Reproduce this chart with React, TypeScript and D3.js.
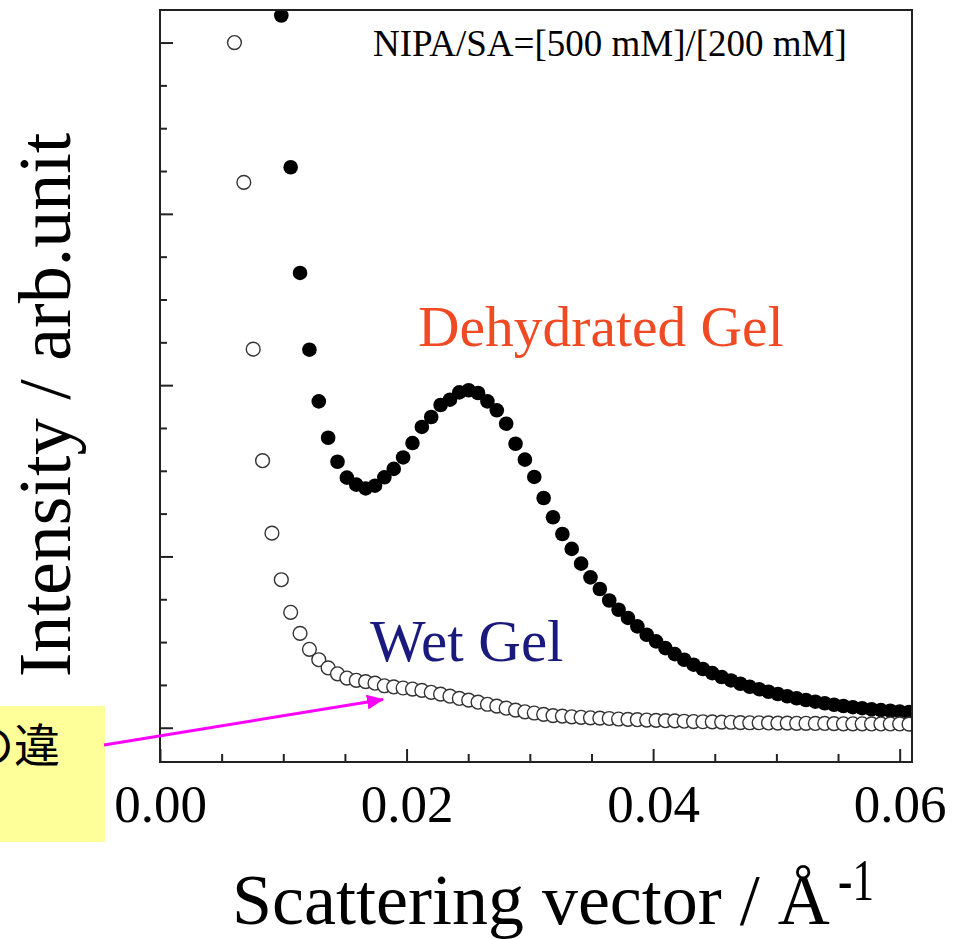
import { useEffect, useRef } from "react";
import * as d3 from "d3";

const WIDTH = 962;
const HEIGHT = 939;

// Scattering vector q (1/Å), shared by both series
const q = [
  0.00604, 0.0068, 0.00756, 0.00832, 0.00908, 0.00984, 0.0106, 0.01136, 0.01212, 0.01288,
  0.01364, 0.0144, 0.01516, 0.01592, 0.01668, 0.01744, 0.0182, 0.01896, 0.01972, 0.02048,
  0.02124, 0.022, 0.02276, 0.02352, 0.02428, 0.02504, 0.0258, 0.02656, 0.02732, 0.02808,
  0.02884, 0.0296, 0.03036, 0.03112, 0.03188, 0.03264, 0.0334, 0.03416, 0.03492, 0.03568,
  0.03644, 0.0372, 0.03796, 0.03872, 0.03948, 0.04024, 0.041, 0.04176, 0.04252, 0.04328,
  0.04404, 0.0448, 0.04556, 0.04632, 0.04708, 0.04784, 0.0486, 0.04936, 0.05012, 0.05088,
  0.05164, 0.0524, 0.05316, 0.05392, 0.05468, 0.05544, 0.0562, 0.05696, 0.05772, 0.05848,
  0.05924, 0.06, 0.06076,
];

// Wet gel intensity (arb. unit), open circles
const wetGel = [
  40.0, 31.84, 22.1, 15.59, 11.36, 8.64, 6.74, 5.51, 4.58, 3.97,
  3.49, 3.15, 2.9, 2.77, 2.69, 2.6, 2.45, 2.38, 2.32, 2.26,
  2.18, 2.07, 1.96, 1.84, 1.71, 1.61, 1.49, 1.37, 1.26, 1.14,
  1.03, 0.93, 0.86, 0.78, 0.71, 0.68, 0.64, 0.61, 0.58, 0.56,
  0.54, 0.51, 0.49, 0.47, 0.45, 0.43, 0.41, 0.4, 0.38, 0.36,
  0.35, 0.34, 0.33, 0.32, 0.3, 0.29, 0.29, 0.28, 0.27, 0.27,
  0.26, 0.26, 0.25, 0.25, 0.24, 0.23, 0.23, 0.23, 0.22, 0.22,
  0.22, 0.22, 0.21,
];

// Dehydrated gel intensity (arb. unit), filled circles; first points are off scale
const dehydratedGel = [
  null, null, null, null, null, 41.58, 32.72, 26.55, 22.07, 19.05,
  16.93, 15.53, 14.6, 14.19, 13.97, 14.13, 14.62, 15.11, 15.78, 16.62,
  17.56, 18.14, 18.84, 19.15, 19.58, 19.7, 19.54, 19.05, 18.53, 17.75,
  16.58, 15.65, 14.64, 13.41, 12.29, 11.31, 10.44, 9.58, 8.78, 8.1,
  7.43, 6.89, 6.41, 5.92, 5.43, 5.04, 4.65, 4.3, 3.97, 3.68,
  3.43, 3.19, 2.96, 2.76, 2.57, 2.39, 2.25, 2.1, 1.97, 1.84,
  1.72, 1.62, 1.52, 1.43, 1.34, 1.27, 1.2, 1.14, 1.08, 1.03,
  0.99, 0.95, 0.92,
];

const xMajorTicks = [0, 0.02, 0.04, 0.06];
const xMinorTicks = [0.005, 0.01, 0.015, 0.025, 0.03, 0.035, 0.045, 0.05, 0.055];
const yMajorTicks = [0, 10, 20, 30, 40];
const yMinorTicks = [2.5, 5, 7.5, 12.5, 15, 17.5, 22.5, 25, 27.5, 32.5, 35, 37.5];

const SERIF = "'Liberation Serif', 'Times New Roman', serif";

const plot = { left: 160, top: 10, right: 912, bottom: 762 };

function drawChart(el: SVGSVGElement) {
  const svg = d3.select(el);
  svg.selectAll("*").remove();

  const x = d3.scaleLinear().domain([0, 0.061]).range([plot.left, plot.right]);
  const y = d3.scaleLinear().domain([-2, 41.9]).range([plot.bottom, plot.top]);

  svg
    .append("clipPath")
    .attr("id", "plot-clip")
    .append("rect")
    .attr("x", plot.left)
    .attr("y", plot.top)
    .attr("width", plot.right - plot.left)
    .attr("height", plot.bottom - plot.top);

  // Annotation box on the left (its text runs off the page, as in the source)
  svg
    .append("rect")
    .attr("x", -10)
    .attr("y", 706)
    .attr("width", 115)
    .attr("height", 136)
    .attr("fill", "#ffff99");
  svg
    .append("text")
    .attr("x", 60)
    .attr("y", 762)
    .attr("text-anchor", "end")
    .attr("font-family", "'Noto Sans CJK JP', sans-serif")
    .attr("font-size", 46)
    .attr("fill", "#000")
    .text("構造の違");

  const pts = svg.append("g").attr("clip-path", "url(#plot-clip)");

  const dry = q
    .map((d, i) => ({ q: d, v: dehydratedGel[i] }))
    .filter((d) => d.v != null) as { q: number; v: number }[];
  pts
    .selectAll("circle.dry")
    .data(dry)
    .join("circle")
    .attr("class", "dry")
    .attr("cx", (d) => x(d.q))
    .attr("cy", (d) => y(d.v))
    .attr("r", 7.3)
    .attr("fill", "#000");

  const wet = q.map((d, i) => ({ q: d, v: wetGel[i] }));
  pts
    .selectAll("circle.wet")
    .data(wet)
    .join("circle")
    .attr("class", "wet")
    .attr("cx", (d) => x(d.q))
    .attr("cy", (d) => y(d.v))
    .attr("r", 6.9)
    .attr("fill", "#fff")
    .attr("stroke", "#333")
    .attr("stroke-width", 1.4);

  // Axes with inward ticks
  const styleAxis = (g: d3.Selection<SVGGElement, unknown, null, undefined>) => {
    g.select(".domain").remove();
    g.selectAll(".tick line").attr("stroke", "#222").attr("stroke-width", 2);
    g.selectAll(".tick text")
      .attr("font-family", SERIF)
      .attr("font-size", 53)
      .attr("fill", "#000");
  };

  svg
    .append("g")
    .attr("transform", `translate(0,${plot.bottom})`)
    .call(
      d3
        .axisBottom(x)
        .tickValues(xMajorTicks)
        .tickSize(-13)
        .tickPadding(22)
        .tickFormat(d3.format(".2f"))
    )
    .call(styleAxis);

  svg
    .append("g")
    .attr("transform", `translate(0,${plot.bottom})`)
    .call(d3.axisBottom(x).tickValues(xMinorTicks).tickSize(-8).tickFormat(() => ""))
    .call(styleAxis);

  svg
    .append("g")
    .attr("transform", `translate(${plot.left},0)`)
    .call(d3.axisLeft(y).tickValues(yMajorTicks).tickSize(-13).tickFormat(() => ""))
    .call(styleAxis);

  svg
    .append("g")
    .attr("transform", `translate(${plot.left},0)`)
    .call(d3.axisLeft(y).tickValues(yMinorTicks).tickSize(-7).tickFormat(() => ""))
    .call(styleAxis);

  // Frame
  svg
    .append("rect")
    .attr("x", plot.left)
    .attr("y", plot.top)
    .attr("width", plot.right - plot.left)
    .attr("height", plot.bottom - plot.top)
    .attr("fill", "none")
    .attr("stroke", "#222")
    .attr("stroke-width", 2);

  // Labels
  svg
    .append("text")
    .attr("x", 373)
    .attr("y", 56)
    .attr("font-family", SERIF)
    .attr("font-size", 37)
    .attr("fill", "#000")
    .text("NIPA/SA=[500 mM]/[200 mM]");

  svg
    .append("text")
    .attr("x", 418)
    .attr("y", 346)
    .attr("font-family", SERIF)
    .attr("font-size", 57.5)
    .attr("fill", "#f04a24")
    .text("Dehydrated Gel");

  svg
    .append("text")
    .attr("x", 370)
    .attr("y", 661)
    .attr("font-family", SERIF)
    .attr("font-size", 59)
    .attr("fill", "#1a1a7e")
    .text("Wet Gel");

  svg
    .append("text")
    .attr("x", 232)
    .attr("y", 924)
    .attr("font-family", SERIF)
    .attr("font-size", 72)
    .attr("fill", "#000")
    .text("Scattering vector / Å");

  svg
    .append("text")
    .attr("transform", "translate(838,900) scale(0.72,1)")
    .attr("font-family", SERIF)
    .attr("font-size", 60)
    .attr("fill", "#000")
    .text("-1");

  svg
    .append("text")
    .attr("transform", "translate(70,405) rotate(-90)")
    .attr("text-anchor", "middle")
    .attr("font-family", SERIF)
    .attr("font-size", 74)
    .attr("fill", "#000")
    .text("Intensity / arb.unit");

  // Magenta arrow
  const defs = svg.append("defs");
  defs
    .append("marker")
    .attr("id", "arrow")
    .attr("markerUnits", "userSpaceOnUse")
    .attr("markerWidth", 17)
    .attr("markerHeight", 15)
    .attr("refX", 16)
    .attr("refY", 7.5)
    .attr("orient", "auto")
    .append("path")
    .attr("d", "M0,0 L17,7.5 L0,15 Z")
    .attr("fill", "#ff00ff");

  svg
    .append("line")
    .attr("x1", 104)
    .attr("y1", 745)
    .attr("x2", 383)
    .attr("y2", 699.5)
    .attr("stroke", "#ff00ff")
    .attr("stroke-width", 3)
    .attr("marker-end", "url(#arrow)");
}

export default function App() {
  const ref = useRef<SVGSVGElement>(null);
  useEffect(() => {
    if (ref.current) drawChart(ref.current);
  }, []);
  return (
    <svg
      ref={ref}
      width={WIDTH}
      height={HEIGHT}
      style={{ position: "absolute", left: 0, top: 0, background: "#fff" }}
    />
  );
}
